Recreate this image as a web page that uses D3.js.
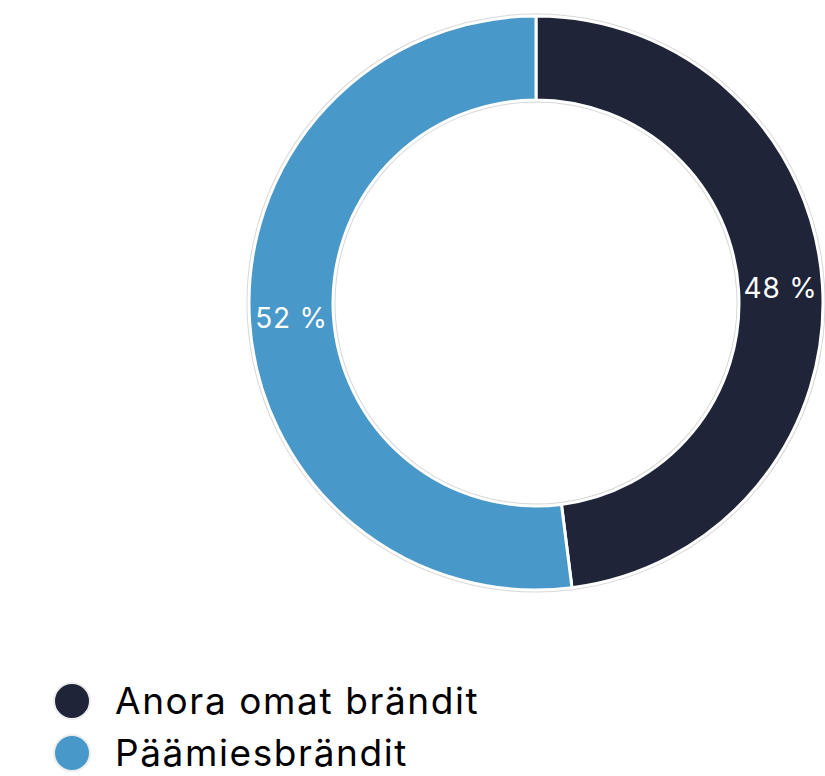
<!DOCTYPE html>
<html>
<head>
<meta charset="utf-8">
<script src="https://cdn.jsdelivr.net/npm/d3@7"></script>
<style>
  body { margin: 0; background: #fff; }
  svg { display: block; font-family: Inter, "Open Sans", sans-serif; }
</style>
</head>
<body>
<div id="chart"></div>
<script>
const categories = ['Anora omat brändit', 'Päämiesbrändit'];
const values = [48, 52];
const colors = ['#1f2438', '#4898c9'];

const width = 825, height = 776;
const cx = 536, cy = 303;
const outerR = 287, innerR = 203;

const svg = d3.select('#chart').append('svg')
  .attr('width', width)
  .attr('height', height);

const pie = d3.pie().sort(null).value(d => d);
const arcs = pie(values);

const arc = d3.arc().innerRadius(innerR).outerRadius(outerR);
const labelArc = d3.arc().innerRadius((innerR + outerR) / 2).outerRadius((innerR + outerR) / 2);

const g = svg.append('g').attr('transform', `translate(${cx},${cy})`);

// faint outline under the slices
g.selectAll('path.halo')
  .data(arcs)
  .join('path')
    .attr('class', 'halo')
    .attr('d', arc)
    .attr('fill', 'none')
    .attr('stroke', '#d8d8d8')
    .attr('stroke-width', 5);

g.selectAll('path.slice')
  .data(arcs)
  .join('path')
    .attr('class', 'slice')
    .attr('d', arc)
    .attr('fill', (d, i) => colors[i])
    .attr('stroke', '#fff')
    .attr('stroke-width', 3)
    .attr('stroke-linejoin', 'round');

g.selectAll('text')
  .data(arcs)
  .join('text')
    .attr('transform', d => `translate(${labelArc.centroid(d)})`)
    .attr('text-anchor', 'middle')
    .attr('dy', '0.36em')
    .attr('fill', '#fff')
    .style('font-size', '28px')
    .style('letter-spacing', '0.8px')
    .text(d => `${d.data} %`);

// legend
const legend = svg.append('g').attr('transform', 'translate(72,701)');
const item = legend.selectAll('g')
  .data(categories)
  .join('g')
    .attr('transform', (d, i) => `translate(0,${i * 52})`);

item.append('circle')
  .attr('r', 18)
  .attr('fill', (d, i) => colors[i])
  .attr('stroke', '#eee')
  .attr('stroke-width', 2);

item.append('text')
  .attr('x', 43)
  .attr('dy', '0.36em')
  .attr('fill', '#000')
  .style('font-size', '37px')
  .style('letter-spacing', '1.6px')
  .text(d => d);
</script>
</body>
</html>
